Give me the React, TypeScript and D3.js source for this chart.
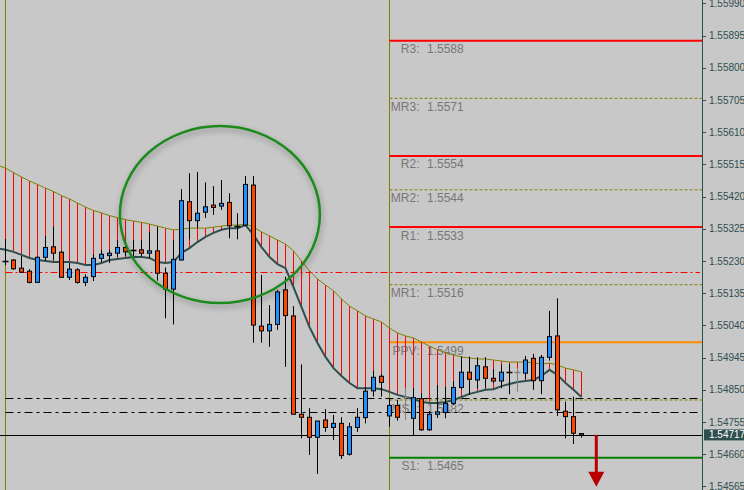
import * as d3 from 'd3';

// ---- data (bar 0 = first visible bar) ----
const opens = [
  1.55231, 1.55233, 1.55209, 1.55200, 1.55167, 1.55241, 1.55272, 1.55256, 1.55182, 1.55204,
  1.55167, 1.55184, 1.55238, 1.55246, 1.55253, 1.55270, 1.55262, 1.55263, 1.55253, 1.55260,
  1.55194, 1.55147, 1.55233, 1.55405, 1.55349, 1.55374, 1.55395, 1.55392, 1.55403, 1.55333,
  1.55336, 1.55454, 1.55038, 1.55024, 1.55043, 1.55145, 1.55068, 1.54778, 1.54769, 1.54710,
  1.54761, 1.54739, 1.54751, 1.54660, 1.54739, 1.54768, 1.54847, 1.54890, 1.54773, 1.54804,
  1.54829, 1.54766, 1.54824, 1.54732, 1.54778, 1.54783, 1.54810, 1.54857, 1.54902, 1.54879,
  1.54918, 1.54884, 1.54876, 1.54902, 1.54902, 1.54899, 1.54943, 1.54877, 1.54946, 1.55009,
  1.54787, 1.54771, 1.54721,
];
const highs = [
  1.55295, 1.55236, 1.55245, 1.55206, 1.55243, 1.55304, 1.55331, 1.55260, 1.55224, 1.55209,
  1.55191, 1.55250, 1.55263, 1.55263, 1.55292, 1.55292, 1.55292, 1.55292, 1.55316, 1.55331,
  1.55211, 1.55292, 1.55442, 1.55489, 1.55493, 1.55462, 1.55451, 1.55469, 1.55430, 1.55371,
  1.55481, 1.55481, 1.55189, 1.55100, 1.55145, 1.55184, 1.55097, 1.54925, 1.54796, 1.54758,
  1.54793, 1.54776, 1.54769, 1.54753, 1.54796, 1.54858, 1.54906, 1.54897, 1.54823, 1.54820,
  1.54855, 1.54855, 1.54840, 1.54788, 1.54864, 1.54858, 1.54876, 1.54948, 1.54948, 1.54946,
  1.54946, 1.54911, 1.54923, 1.54926, 1.54914, 1.54950, 1.54956, 1.54953, 1.55083, 1.55120,
  1.54815, 1.54830, 1.54721,
];
const lows = [
  1.55218, 1.55204, 1.55195, 1.55164, 1.55166, 1.55231, 1.55233, 1.55180, 1.55174, 1.55163,
  1.55156, 1.55171, 1.55227, 1.55224, 1.55242, 1.55245, 1.55245, 1.55243, 1.55238, 1.55172,
  1.55061, 1.55043, 1.55232, 1.55294, 1.55327, 1.55357, 1.55366, 1.55381, 1.55297, 1.55294,
  1.55335, 1.54989, 1.54989, 1.54977, 1.55027, 1.54918, 1.54777, 1.54707, 1.54658, 1.54602,
  1.54726, 1.54702, 1.54646, 1.54656, 1.54726, 1.54751, 1.54830, 1.54830, 1.54741, 1.54759,
  1.54761, 1.54714, 1.54729, 1.54729, 1.54767, 1.54766, 1.54805, 1.54852, 1.54835, 1.54855,
  1.54855, 1.54870, 1.54855, 1.54837, 1.54844, 1.54882, 1.54850, 1.54837, 1.54936, 1.54773,
  1.54707, 1.54690, 1.54709,
];
const closes = [
  1.55231, 1.55207, 1.55197, 1.55167, 1.55241, 1.55270, 1.55253, 1.55182, 1.55206, 1.55167,
  1.55182, 1.55238, 1.55250, 1.55253, 1.55270, 1.55257, 1.55262, 1.55253, 1.55260, 1.55194,
  1.55147, 1.55235, 1.55408, 1.55349, 1.55371, 1.55390, 1.55388, 1.55400, 1.55334, 1.55333,
  1.55456, 1.55041, 1.55024, 1.55043, 1.55139, 1.55069, 1.54778, 1.54769, 1.54710, 1.54758,
  1.54739, 1.54751, 1.54656, 1.54741, 1.54769, 1.54846, 1.54887, 1.54872, 1.54804, 1.54769,
  1.54829, 1.54827, 1.54732, 1.54778, 1.54785, 1.54810, 1.54857, 1.54902, 1.54881, 1.54921,
  1.54884, 1.54876, 1.54902, 1.54902, 1.54902, 1.54938, 1.54877, 1.54946, 1.55007, 1.54791,
  1.54771, 1.54722, 1.54717,
];
const grayDojiBars = [50, 64];

// moving averages, starting one bar before bar 0
const maFast = [
  1.55268, 1.55263, 1.55257, 1.55248, 1.55239, 1.55233, 1.55230, 1.55227, 1.55227, 1.55227,
  1.55224, 1.55218, 1.55218, 1.55224, 1.55233, 1.55236, 1.55239, 1.55242, 1.55242, 1.55239,
  1.55227, 1.55224, 1.55227, 1.55254, 1.55268, 1.55286, 1.55301, 1.55313, 1.55322, 1.55327,
  1.55327, 1.55336, 1.55307, 1.55271, 1.55242, 1.55221, 1.55209, 1.55153, 1.55094, 1.55035,
  1.54988, 1.54947, 1.54914, 1.54891, 1.54870, 1.54855, 1.54855, 1.54855, 1.54852, 1.54844,
  1.54835, 1.54829, 1.54823, 1.54814, 1.54811, 1.54811, 1.54814, 1.54820, 1.54829, 1.54838,
  1.54844, 1.54850, 1.54852, 1.54861, 1.54867, 1.54873, 1.54876, 1.54879, 1.54891, 1.54909,
  1.54894, 1.54870, 1.54850, 1.54829,
];
const maSlow = [
  1.55513, 1.55504, 1.55491, 1.55478, 1.55466, 1.55456, 1.55445, 1.55435, 1.55423, 1.55413,
  1.55401, 1.55389, 1.55379, 1.55372, 1.55364, 1.55358, 1.55352, 1.55348, 1.55344, 1.55339,
  1.55333, 1.55327, 1.55322, 1.55324, 1.55327, 1.55327, 1.55327, 1.55330, 1.55333, 1.55336,
  1.55336, 1.55339, 1.55330, 1.55316, 1.55304, 1.55292, 1.55280, 1.55260, 1.55230, 1.55201,
  1.55177, 1.55159, 1.55142, 1.55118, 1.55097, 1.55083, 1.55068, 1.55059, 1.55050, 1.55032,
  1.55018, 1.55009, 1.55003, 1.54991, 1.54979, 1.54968, 1.54959, 1.54953, 1.54947, 1.54944,
  1.54941, 1.54941, 1.54938, 1.54935, 1.54932, 1.54932, 1.54932, 1.54929, 1.54926, 1.54929,
  1.54923, 1.54914, 1.54909, 1.54903,
];

const priceTicks = [
  1.55990, 1.55895, 1.55800, 1.55705, 1.55610, 1.55515, 1.55420, 1.55325,
  1.55230, 1.55135, 1.55040, 1.54945, 1.54850, 1.54755, 1.54660, 1.54565,
];

const pivotNames = ['R3', 'MR3', 'R2', 'MR2', 'R1', 'MR1', 'PPV', 'MS1', 'S1'];
const pivotValues = [1.5588, 1.5571, 1.5554, 1.5544, 1.5533, 1.5516, 1.5499, 1.5482, 1.5465];

const separatorBars = [0, 48];
const redLevel = 1.55197;
const blackLevels = [1.54825, 1.54784];
const bidPrice = 1.54717;

const ringBars = [14.3, 39.3];
const ringPrices = [1.55628, 1.55106];
const arrowBar = 73.85;
const arrowPrices = [1.54717, 1.54564];

// ---- styles ----
const W = 744;
const H = 490;
const PLOT_R = 702;
const BG = '#c8c8c8';
const BULL = '#1e90ff';
const BEAR = '#ff4500';
const AXIS = '#2f4f4f';
const OLIVE = '#808000';
const FONT = '"Liberation Sans", Arial, sans-serif';

function pivotStyle(name: string) {
  if (name.startsWith('M')) return { stroke: OLIVE, width: 1, dash: '3,2' };
  if (name.startsWith('R')) return { stroke: '#ff0000', width: 2, dash: undefined };
  if (name === 'PPV') return { stroke: '#ff8c00', width: 2, dash: undefined };
  return { stroke: '#008000', width: 2, dash: undefined };
}

export default function App() {
  const x = d3.scaleLinear().domain([0, 72]).range([5.5, 581.5]);
  const y = d3.scaleLinear().domain([1.56, 1.56 - H * 0.0000295]).range([0, H]);
  const fmt = d3.format('.5f');
  const fmt4 = d3.format('.4f');

  const maLine = d3.line<number>()
    .x((_, i) => x(i - 1))
    .y((d) => y(d));

  const pivotX0 = x(separatorBars[1]);

  const ringCx = (x(ringBars[0]) + x(ringBars[1])) / 2;
  const ringCy = (y(ringPrices[0]) + y(ringPrices[1])) / 2;
  const ringRx = (x(ringBars[1]) - x(ringBars[0])) / 2;
  const ringRy = (y(ringPrices[1]) - y(ringPrices[0])) / 2;

  const ax = x(arrowBar);
  const aTop = y(arrowPrices[0]);
  const aTip = y(arrowPrices[1]);

  return (
    <svg width={W} height={H} style={{ position: 'absolute', left: 0, top: 0, display: 'block' }}
      fontFamily={FONT}>
      <defs>
        <filter id="ringShadow" x="-20%" y="-20%" width="140%" height="140%">
          <feDropShadow dx="1" dy="3" stdDeviation="3" floodColor="#000" floodOpacity="0.35" />
        </filter>
        <clipPath id="plot">
          <rect x={0} y={0} width={PLOT_R} height={H} />
        </clipPath>
      </defs>
      <rect x={0} y={0} width={W} height={H} fill={BG} />

      <g clipPath="url(#plot)">
        {/* period separators */}
        {separatorBars.map((b) => (
          <line key={'sep' + b} x1={x(b)} x2={x(b)} y1={0} y2={H} stroke={OLIVE} strokeWidth={1} />
        ))}

        {/* pivot levels */}
        {pivotNames.map((name, i) => {
          const st = pivotStyle(name);
          const py = y(pivotValues[i]);
          return (
            <g key={name}>
              <line x1={pivotX0} x2={PLOT_R} y1={py} y2={py} stroke={st.stroke}
                strokeWidth={st.width} strokeDasharray={st.dash} />
              <text x={pivotX0 + 30} y={py + 12.5} fontSize={12} fill="#777" textAnchor="end">{name + ':'}</text>
              <text x={pivotX0 + 37.5} y={py + 12.5} fontSize={12} fill="#777">{fmt4(pivotValues[i])}</text>
            </g>
          );
        })}

        {/* horizontal levels */}
        <line x1={x(0)} x2={PLOT_R - 2} y1={Math.round(y(redLevel)) + 0.5} y2={Math.round(y(redLevel)) + 0.5}
          stroke="#ff0000" strokeWidth={1} strokeDasharray="7,3,2,3" />
        {blackLevels.map((lv) => (
          <line key={'bl' + lv} x1={x(0)} x2={PLOT_R - 2} y1={Math.round(y(lv)) + 0.5} y2={Math.round(y(lv)) + 0.5}
            stroke="#000" strokeWidth={1} strokeDasharray="8,4,3,4" />
        ))}
        <line x1={0} x2={PLOT_R} y1={Math.round(y(bidPrice)) + 0.5} y2={Math.round(y(bidPrice)) + 0.5}
          stroke="#000" strokeWidth={1} />

        {/* envelope hatch */}
        {maFast.map((v, i) => (
          <line key={'h' + i} x1={x(i - 1)} x2={x(i - 1)} y1={y(maSlow[i])} y2={y(v)}
            stroke="#ff0000" strokeWidth={1} />
        ))}
        <path d={maLine(maSlow) || ''} fill="none" stroke={OLIVE} strokeWidth={1} />
        <path d={maLine(maFast) || ''} fill="none" stroke={AXIS} strokeWidth={2} />

        {/* candles */}
        {opens.map((o, i) => {
          const c = closes[i];
          const cx = x(i);
          const doji = o === c;
          const wickColor = grayDojiBars.includes(i) ? '#808080' : '#000';
          const top = y(Math.max(o, c));
          const bot = y(Math.min(o, c));
          return (
            <g key={'c' + i}>
              <line x1={cx} x2={cx} y1={y(highs[i])} y2={y(lows[i])} stroke={wickColor} strokeWidth={1} />
              {doji ? (
                <line x1={cx - 3} x2={cx + 3} y1={Math.round(top) + 0.5} y2={Math.round(top) + 0.5}
                  stroke={wickColor} strokeWidth={1.5} />
              ) : (
                <rect x={cx - 2} y={top} width={4} height={Math.max(1, bot - top)}
                  fill={c > o ? BULL : BEAR} stroke="#000" strokeWidth={1} />
              )}
            </g>
          );
        })}

        {/* highlight ring */}
        <ellipse cx={ringCx} cy={ringCy} rx={ringRx} ry={ringRy} fill="none"
          stroke="#1c8a1c" strokeWidth={2.5} filter="url(#ringShadow)" />
      </g>

      {/* down arrow */}
      <rect x={ax - 1.5} y={aTop} width={3} height={aTip - aTop - 14} fill="#b80000" />
      <path d={`M${ax - 8},${aTip - 15} L${ax + 8},${aTip - 15} L${ax},${aTip} Z`} fill="#b80000" />

      {/* price axis */}
      <line x1={PLOT_R + 0.5} x2={PLOT_R + 0.5} y1={0} y2={H} stroke={AXIS} strokeWidth={1} />
      {priceTicks.map((t) => (
        <g key={'t' + t}>
          <line x1={PLOT_R} x2={PLOT_R + 4} y1={Math.round(y(t)) + 0.5} y2={Math.round(y(t)) + 0.5}
            stroke={AXIS} strokeWidth={1} />
          <text x={PLOT_R + 7} y={y(t)} dy="0.35em" fontSize={10} fill={AXIS}>{fmt(t)}</text>
        </g>
      ))}
      <rect x={PLOT_R + 2} y={y(bidPrice) - 5.5} width={W - PLOT_R - 2} height={11} fill={AXIS} />
      <text x={PLOT_R + 7} y={y(bidPrice)} dy="0.35em" fontSize={10} fill="#fff">{fmt(bidPrice)}</text>
    </svg>
  );
}
